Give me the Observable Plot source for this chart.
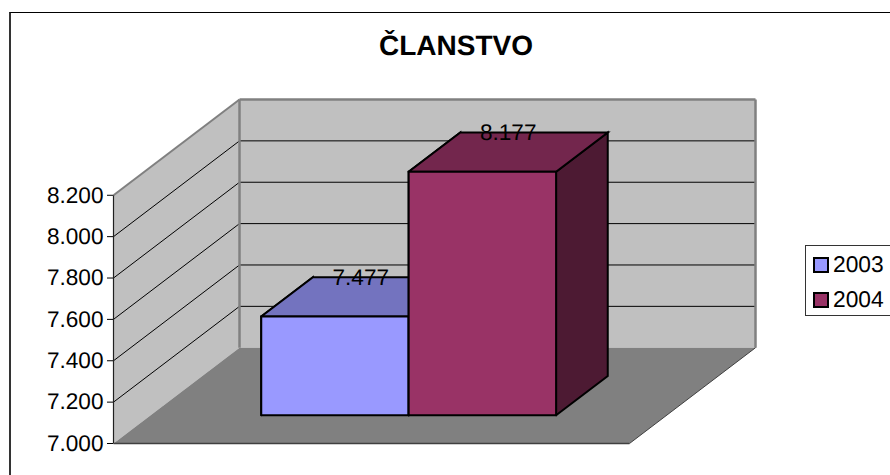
<!DOCTYPE html>
<html>
<head>
<meta charset="utf-8">
<script src="https://cdn.jsdelivr.net/npm/d3@7"></script>
<script src="https://cdn.jsdelivr.net/npm/@observablehq/plot@0.6"></script>
<style>
  html, body { margin: 0; padding: 0; background: #fff; }
  body { position: relative; width: 890px; height: 475px; overflow: hidden; font-family: "Liberation Sans", Arial, sans-serif; color: #000; text-rendering: geometricPrecision; }
  #frame { position: absolute; left: 9px; top: 12px; width: 950px; height: 520px; border: 1px solid #000; border-left: 2px solid #333; box-sizing: border-box; }
  #title { position: absolute; left: 300px; width: 312px; top: 29px; text-align: center; font-weight: bold; font-size: 28px; line-height: 34px; }
  #chart { position: absolute; left: 0; top: 0; }
  #legend { position: absolute; left: 805px; top: 245px; width: 100px; height: 71px; border: 1px solid #333; box-sizing: border-box; background: #fff; }
  .item { position: absolute; left: 7px; height: 26px; line-height: 26px; font-size: 22.8px; white-space: nowrap; }
  .item i { display: inline-block; width: 16px; height: 16px; border: 2px solid #000; box-sizing: border-box; vertical-align: -1px; margin-right: 4px; }
</style>
</head>
<body>
<div id="frame"></div>
<div id="chart"></div>
<div id="title"></div>
<div id="legend"></div>
<script>
const chartTitle = "ČLANSTVO";
const years = ["2003", "2004"];
const members = [7477, 8177];
const frontColors = ["#9999FF", "#993366"];
const topColors = ["#7373BF", "#73264D"];
const sideColors = ["#4D4D80", "#4D1A33"];
const tickValues = [7000, 7200, 7400, 7600, 7800, 8000, 8200];

// Oblique 3D projection: depth 0..1 shifts a point along x (floor units) and y (members).
const shearX = 0.2442;
const shearY = 463;
const base = 7000, top3d = 8200;
const gap = 0.2143, barW = 0.2857;
const depthFront = 0.295, depthBack = 0.705;

const project = (u, d, v) => ({x: u + d * shearX, y: v + d * shearY});
const face = (corners, fill, stroke, strokeWidth) => {
  const pts = corners.map(c => project(...c));
  pts.push(pts[0]);
  return Plot.line(pts, {x: "x", y: "y", fill, stroke, strokeWidth, strokeLinejoin: "miter", strokeMiterlimit: 4});
};
const edge = (a, b, stroke, strokeWidth) =>
  Plot.line([project(...a), project(...b)], {x: "x", y: "y", stroke, strokeWidth, strokeLinecap: "butt"});

const fmt = d3.formatLocale({decimal: ",", thousands: ".", grouping: [3]}).format(",d");

const gridMarks = tickValues.slice(1, -1).flatMap(v => [
  edge([0, 0, v], [0, 1, v], "#000", 1),
  edge([0, 1, v], [1, 1, v], "#000", 1)
]);

const barMarks = members.flatMap((v, i) => {
  const a = gap + i * barW, b = a + barW;
  return [
    face([[a, depthFront, base], [a, depthBack, base], [a, depthBack, v], [a, depthFront, v]], sideColors[i], "#000", 2),
    face([[b, depthFront, base], [b, depthBack, base], [b, depthBack, v], [b, depthFront, v]], sideColors[i], "#000", 2),
    face([[a, depthFront, v], [a, depthBack, v], [b, depthBack, v], [b, depthFront, v]], topColors[i], "#000", 2),
    face([[a, depthFront, base], [b, depthFront, base], [b, depthFront, v], [a, depthFront, v]], frontColors[i], "#000", 2)
  ];
});

const labels = members.map((v, i) => {
  const p = project(gap + (i + 0.5) * barW, 0.5, v);
  return {x: p.x, y: p.y, text: fmt(v)};
});

const plot = Plot.plot({
  width: 890,
  height: 475,
  marginLeft: 113,
  marginRight: 135,
  marginTop: 99,
  marginBottom: 32,
  style: {fontFamily: '"Liberation Sans", Arial, sans-serif', background: "transparent", color: "#000", overflow: "visible"},
  x: {domain: [0, 1 + shearX], axis: null},
  y: {domain: [base, top3d + shearY], axis: null},
  marks: [
    // left wall, back wall, floor
    face([[0, 0, base], [0, 1, base], [0, 1, top3d], [0, 0, top3d]], "#C0C0C0", "none", 0),
    face([[0, 1, base], [1, 1, base], [1, 1, top3d], [0, 1, top3d]], "#C0C0C0", "none", 0),
    ...gridMarks,
    edge([0, 0, top3d], [0, 1, top3d], "#808080", 2),
    edge([0, 1, top3d], [1, 1, top3d], "#808080", 2.5),
    edge([0, 1, base], [0, 1, top3d], "#808080", 2.5),
    edge([1, 1, base], [1, 1, top3d], "#808080", 2.5),
    face([[0, 0, base], [1, 0, base], [1, 1, base], [0, 1, base]], "#808080", "none", 0),
    edge([0, 0, base], [1, 0, base], "#404040", 1.5),
    edge([1, 0, base], [1, 1, base], "#404040", 1),
    edge([0, 0, base], [0, 0, top3d], "#202020", 1.2),
    ...barMarks,
    Plot.text(labels, {x: "x", y: "y", text: "text", dy: -19, fontSize: 22.6, fill: "#000"}),
    Plot.axisY({ticks: tickValues, tickFormat: fmt, tickSize: 6, tickPadding: 4, fontSize: 22.6, stroke: "#000", fill: "#000", marginLeft: 113, label: null})
  ]
});
document.getElementById("chart").appendChild(plot);
document.getElementById("title").textContent = chartTitle;

const legend = document.getElementById("legend");
years.forEach((y, i) => {
  const row = document.createElement("div");
  row.className = "item";
  row.style.top = (5 + i * 35) + "px";
  const sw = document.createElement("i");
  sw.style.background = frontColors[i];
  row.appendChild(sw);
  row.appendChild(document.createTextNode(y));
  legend.appendChild(row);
});
</script>
</body>
</html>
